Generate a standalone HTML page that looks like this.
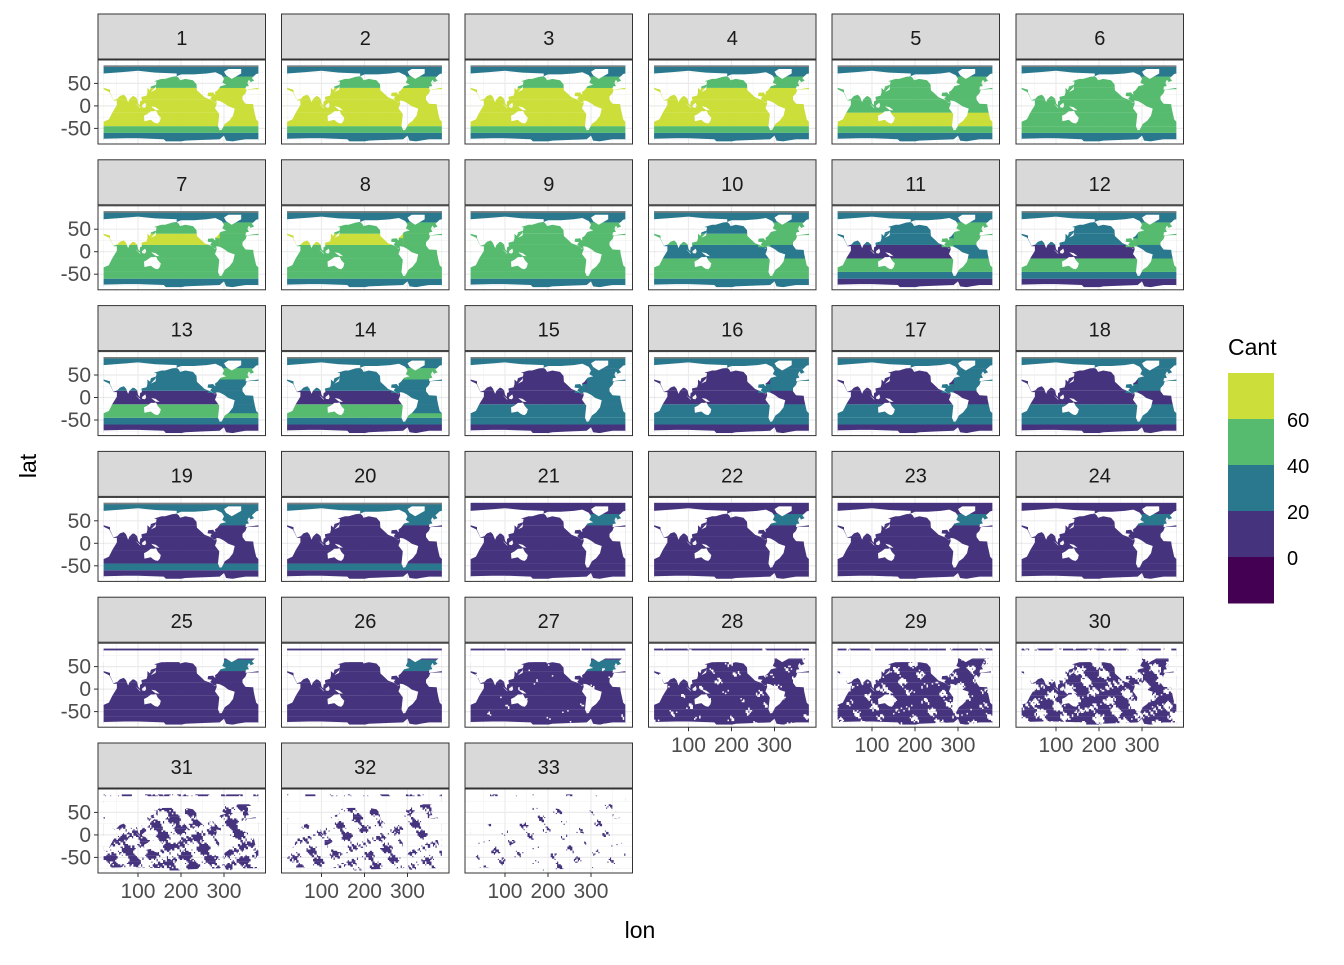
<!DOCTYPE html>
<html><head><meta charset="utf-8"><style>
body{margin:0;background:#fff}
svg text{font-family:"Liberation Sans",Arial,sans-serif}
</style></head><body>
<svg id="c" width="1344" height="960" viewBox="0 0 1344 960" xmlns="http://www.w3.org/2000/svg"></svg>
<script>
// ---- data ----
// global (non-Atlantic) Cant per latitude zone: [S1 -90..-60, S2 -60..-45, S3 -45..-15, EQ -15..15, N1 15..40, N2 40..65, N3 65..90]
const glob=[
[30,50,65,65,65,50,30],[30,50,65,62,65,50,30],[30,50,65,62,65,50,30],[30,50,65,65,65,50,30],
[30,50,65,50,55,50,30],[30,50,55,45,50,45,30],[30,50,55,50,62,45,30],[30,50,55,50,62,45,30],
[30,45,50,45,50,40,30],[30,45,50,35,45,35,30],[10,30,50,15,35,30,30],[10,30,45,10,30,30,30],
[10,30,45,10,25,25,30],[10,30,42,10,25,25,30],[10,25,30,10,15,15,30],[10,25,30,10,10,10,30],
[10,25,30,10,10,10,30],[10,25,25,10,10,10,30],[10,25,10,10,10,10,30],[10,25,10,10,10,10,25],
[10,10,10,10,10,10,10],[10,10,10,10,10,10,10],[10,10,10,10,10,10,10],[10,10,10,10,10,10,10],
[10,10,10,10,10,10,10],[10,10,10,10,10,10,10],[10,10,10,10,10,10,10],[10,10,10,10,10,10,10],
[10,10,10,10,10,10,10],[10,10,10,10,10,10,10],[10,10,10,10,10,10,10],[10,10,10,10,10,10,10],
[10,10,10,10,10,10,10]];
// Atlantic Cant per zone: [S3, EQ, N1, N2]
const atl=[
[65,62,65,50],[65,62,65,55],[65,62,65,55],[65,62,65,55],[62,50,55,50],[55,45,50,50],
[55,50,55,55],[55,50,55,55],[50,45,50,55],[45,35,50,50],[45,30,50,50],[40,25,45,45],
[35,25,35,45],[35,25,35,40],[30,20,30,35],[25,15,25,30],[25,15,25,30],[25,15,25,30],
[10,10,15,30],[10,10,15,30],[10,10,10,30],[10,10,10,30],[10,10,10,30],[10,10,10,30],
[10,10,10,25],[10,10,10,25],[10,10,10,25],[10,10,10,10],[10,10,10,10],[10,10,10,10],
[10,10,10,10],[10,10,10,10],[10,10,10,10]];
// data coverage fraction per depth level
const coverage=[1,1,1,1,1,1,1,1,1,1,1,1,1,1,1,1,1,1,1,1,1,1,1,1,1,1,0.99,0.96,0.88,0.72,0.5,0.28,0.08];
const hasArcticNA=20; // levels with NA (grey) Arctic strip
const deepArcticFrom=24;
const latTicks=[-50,0,50], lonTicks=[100,200,300];
const legendBreaks=["60","40","20","0"];
// ---- land shapes (lon,lat) ----
const land=[
[[20,37],[33,31],[35,28],[43,12],[51,12],[51,2],[40,-15],[35,-25],[32,-30],[20,-35]],
[[20,40],[35,36],[35,30],[43,13],[52,16],[58,22],[67,25],[72,20],[77,8],[80,15],[88,22],[92,21],[98,16],[100,6],[104,1],[105,10],[109,12],[108,20],[120,23],[122,30],[122,40],[128,35],[130,43],[142,47],[143,54],[137,55],[155,60],[163,60],[180,65],[190,66],[190,72],[140,74],[100,78],[60,75],[20,72]],
[[95,5],[106,-6],[104,-2],[98,3]],[[109,1],[117,7],[119,0],[116,-4],[110,-3]],
[[131,-1],[141,-3],[150,-10],[141,-9],[134,-4]],[[130,31],[141,36],[142,45],[140,41],[133,34]],
[[114,-22],[122,-18],[130,-12],[137,-12],[142,-11],[146,-19],[153,-26],[151,-34],[146,-39],[140,-38],[135,-35],[130,-31],[115,-34]],
[[190,66],[200,70],[230,70],[260,72],[280,75],[295,68],[300,60],[296,52],[305,47],[292,44],[285,35],[279,31],[280,25],[277,27],[275,30],[263,29],[262,22],[272,21],[268,16],[277,8],[283,9],[278,7],[271,13],[255,19],[245,28],[237,35],[236,48],[228,57],[210,60],[198,57],[195,62]],
[[282,12],[290,11],[300,6],[310,-1],[325,-6],[321,-22],[312,-33],[302,-40],[295,-53],[290,-54],[286,-45],[289,-18],[279,-5],[283,5]],
[[300,76],[310,82],[340,82],[340,72],[318,60],[305,68]],
[[380,37],[370,37],[353,36],[350,28],[343,21],[343,14],[350,5],[368,4],[369,-5],[372,-18],[375,-30],[380,-35]],
[[350,36],[351,43],[358,44],[355,50],[365,54],[370,56],[365,62],[375,71],[380,72],[380,40]],
[[354,50],[358,58],[362,53]],
[[20,-73],[70,-72],[100,-72],[160,-74],[165,-79],[200,-79],[210,-77],[260,-75],[290,-74],[300,-66],[305,-77],[320,-79],[330,-77],[350,-74],[380,-74],[380,-90],[20,-90]]
];
const zoneB=[-79,-60,-45,-15,15,40,65,90];
const NS='http://www.w3.org/2000/svg';
const svg=document.getElementById('c');
function el(t,a,p){const e=document.createElementNS(NS,t);for(const k in a)e.setAttribute(k,a[k]);(p||svg).appendChild(e);return e;}
function col(v){return v<0?'#440154':v<20?'#46337E':v<40?'#2A788E':v<60?'#56BB6F':'#CBDE3A';}
const colX=[98,281.5,465,648.5,832,1016], W=167.5, rowPitch=145.8, y0=14, SH=45, PH=84;
function xs(L,lon){return L+(lon-7)*0.43;}
function ys(T,lat){return T+(102-lat)*0.45;}
const CS=3, NI=120, NJ=57;
function noise(i,j){return Math.sin(i*0.43+j*0.17)+Math.sin(j*0.61-i*0.23)+Math.sin((i+j)*0.31+1.3)+0.7*Math.sin(i*1.3+j*1.1)+0.5*Math.sin(i*2.1-j*1.7);}
const nv=[];for(let i=0;i<NI;i++)for(let j=0;j<NJ;j++)nv.push(noise(i,j));nv.sort((a,b)=>a-b);
for(let p=0;p<33;p++){
  const r=Math.floor(p/6), c=p%6, L=colX[c], S=y0+r*rowPitch, T=S+SH+1;
  const g=el('g',{});
  
  
  const strip=el('rect',{x:L,y:S,width:W,height:SH,fill:'#D9D9D9',stroke:'#333',"stroke-width":1},g);
  
  const st=el('text',{x:L+W/2,y:S+31,"text-anchor":"middle","font-size":20,fill:'#1A1A1A'},g);st.textContent=p+1;
  
  el('rect',{x:L,y:T,width:W,height:PH,fill:'#fff'},g);
  const clipId='cl'+p; const cp=el('clipPath',{id:clipId},g); el('rect',{x:L,y:T,width:W,height:PH},cp);
  const m=el('g',{"clip-path":'url(#'+clipId+')'},g);
  const gr=el('g',{},m);
  [50,150,250,350].forEach(v=>el('line',{x1:xs(L,v),x2:xs(L,v),y1:T,y2:T+PH,stroke:'#F2F2F2',"stroke-width":0.6},gr));
  [-75,-25,25,75].forEach(v=>el('line',{x1:L,x2:L+W,y1:ys(T,v),y2:ys(T,v),stroke:'#F2F2F2',"stroke-width":0.6},gr));
  lonTicks.forEach(v=>el('line',{x1:xs(L,v),x2:xs(L,v),y1:T,y2:T+PH,stroke:'#EBEBEB',"stroke-width":1.2},gr));
  latTicks.forEach(v=>el('line',{x1:L,x2:L+W,y1:ys(T,v),y2:ys(T,v),stroke:'#EBEBEB',"stroke-width":1.2},gr));
  const map=el('g',{},m);  
  const mk=el('mask',{id:'mk'+p},g);
  el('rect',{x:L,y:T,width:W,height:PH,fill:'#fff'},mk);
  land.forEach(poly=>el('polygon',{points:poly.map(q=>xs(L,q[0]).toFixed(1)+','+ys(T,q[1]).toFixed(1)).join(' '),fill:'#000'},mk));
  if(p>=deepArcticFrom){
    el('rect',{x:xs(L,20),y:ys(T,86),width:xs(L,380)-xs(L,20),height:ys(T,68)-ys(T,86),fill:'#000'},mk);
    el('rect',{x:xs(L,20),y:ys(T,68),width:xs(L,300)-xs(L,20),height:ys(T,60)-ys(T,68),fill:'#000'},mk);
  }
  if(coverage[p]<1){
    const th=nv[Math.floor(coverage[p]*(nv.length-1))];
    let d='';
    for(let i=0;i<NI;i++)for(let j=0;j<NJ;j++){
      if(noise(i,j)>th){const lon=20+i*CS, lat=-80+j*CS;
        const x=xs(L,lon), y=ys(T,lat+CS);
        d+='M'+(x-0.1).toFixed(1)+' '+(y-0.1).toFixed(1)+'h'+(CS*0.43+0.2).toFixed(2)+'v'+(CS*0.45+0.2).toFixed(2)+'h-'+(CS*0.43+0.2).toFixed(2)+'z';}
    }
    el('path',{d:d,fill:'#000'},mk);
  }
  map.setAttribute('mask','url(#mk'+p+')');
  for(let z=0;z<7;z++){
    const b=el('rect',{x:xs(L,20),y:ys(T,zoneB[z+1]),width:xs(L,380)-xs(L,20),height:ys(T,zoneB[z])-ys(T,zoneB[z+1]),fill:col(glob[p][z])},map);
    
  }
  for(let z=0;z<4;z++){
    const lo=Math.max(zoneB[z+2],-35), hi=zoneB[z+3];
    const a=el('rect',{x:xs(L,290),y:ys(T,hi),width:xs(L,380)-xs(L,290),height:ys(T,lo)-ys(T,hi),fill:col(atl[p][z])},map);
    
  }
  const gulf=el('rect',{x:xs(L,262),y:ys(T,30),width:xs(L,290)-xs(L,262),height:ys(T,10)-ys(T,30),fill:col(atl[p][2])},map);
  
  if(p<hasArcticNA){el('rect',{x:xs(L,20),y:ys(T,90),width:xs(L,380)-xs(L,20),height:ys(T,86.5)-ys(T,90),fill:'#7F7F7F'},map);}
  el('rect',{x:L,y:T,width:W,height:PH,fill:'none',stroke:'#333',"stroke-width":1},g);
  if(c===0){latTicks.forEach(v=>{const y=ys(T,v);
    el('line',{x1:L-4,x2:L,y1:y,y2:y,stroke:'#333',"stroke-width":1},g);
    const t=el('text',{x:L-7,y:y+7,"text-anchor":"end","font-size":21,fill:'#4D4D4D'},g);t.textContent=v;
    });}
  if(r===5||(r===4&&c>=3)){lonTicks.forEach(v=>{const x=xs(L,v);
    el('line',{x1:x,x2:x,y1:T+PH,y2:T+PH+4,stroke:'#333',"stroke-width":1},g);
    const t=el('text',{x:x,y:T+PH+25,"text-anchor":"middle","font-size":21,fill:'#4D4D4D'},g);t.textContent=v;
    });}
}
const yl=el('text',{x:36,y:466,"text-anchor":"middle","font-size":23,fill:'#000',transform:'rotate(-90 36 466)'});yl.textContent='lat';

const xl=el('text',{x:640,y:938,"text-anchor":"middle","font-size":23,fill:'#000'});xl.textContent='lon';

const lg=el('g',{});
const lt=el('text',{x:1228,y:355,"font-size":23,fill:'#000'},lg);lt.textContent='Cant';

['#CBDE3A','#56BB6F','#2A788E','#46337E','#440154'].forEach((cc,i)=>{const k=el('rect',{x:1228,y:373+i*46,width:46,height:46.5,fill:cc},lg);
  });
legendBreaks.forEach((s,i)=>{const t=el('text',{x:1287,y:427+i*46,"font-size":20,fill:'#000'},lg);t.textContent=s;
  });
</script>
</body></html>
